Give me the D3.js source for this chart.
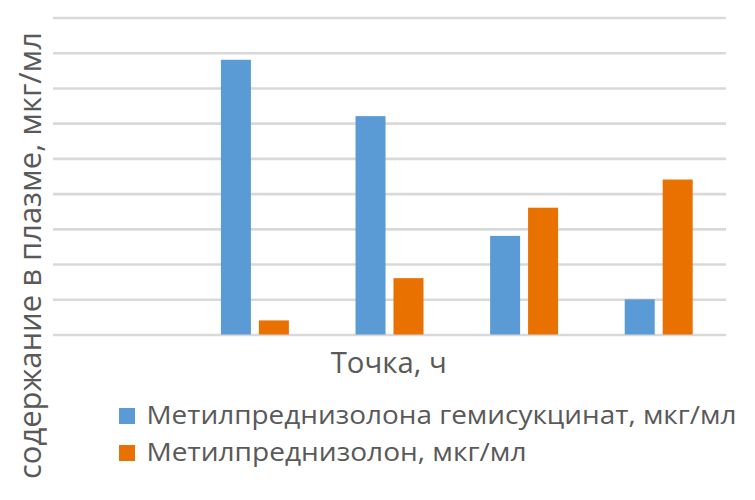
<!DOCTYPE html>
<html><head><meta charset="utf-8">
<script src="https://cdn.jsdelivr.net/npm/d3@7"></script>
<style>html,body{margin:0;padding:0;background:#fff;}</style>
</head><body>
<svg id="c" width="755" height="500"></svg>
<script>
const categories = ["1", "2", "3", "4", "5"];
const seriesNames = ["Метилпреднизолона гемисукцинат, мкг/мл", "Метилпреднизолон, мкг/мл"];
const hemisuccinate = [0, 7.8, 6.2, 2.8, 1.0];
const methylpred = [0, 0.4, 1.6, 3.6, 4.4];
const yTicks = [0, 1, 2, 3, 4, 5, 6, 7, 8, 9];
const colors = ["#5b9bd5", "#e97100"];
const xTitle = "Точка, ч";
const yTitle = "содержание в плазме, мкг/мл";

(function () {
const svg = d3.select("#c");
const plotLeft = 53, plotRight = 726, plotTop = 17.5, plotBottom = 334.5;
const font = "'Open Sans', 'Noto Sans', sans-serif";
const textColor = "#595959";

const y = d3.scaleLinear().domain([0, 9]).range([plotBottom, plotTop]);
const x0 = d3.scaleBand().domain(categories).range([plotLeft, plotRight]).paddingInner(0.495).paddingOuter(0.2475);
const x1 = d3.scaleBand().domain([0, 1]).range([0, x0.bandwidth()]).paddingInner(0.21).paddingOuter(0);

const gAxis = svg.append("g").attr("transform", `translate(${plotLeft},0)`)
  .call(d3.axisLeft(y).tickValues(yTicks).tickSize(-(plotRight - plotLeft)).tickFormat(""));
gAxis.select(".domain").remove();
gAxis.selectAll(".tick line").attr("stroke", "#d9d9d9").attr("stroke-width", 2.6);

const data = categories.map((c, i) => ({c, v: [hemisuccinate[i], methylpred[i]]}));
const groups = svg.append("g").selectAll("g").data(data).join("g")
  .attr("transform", d => `translate(${x0(d.c)},0)`);
groups.selectAll("rect").data(d => d.v.map((v, k) => ({v, k}))).join("rect")
  .attr("x", d => x1(d.k))
  .attr("width", x1.bandwidth())
  .attr("y", d => y(d.v))
  .attr("height", d => y(0) - y(d.v))
  .attr("fill", d => colors[d.k]);

function fitText(sel, w) {
  sel.attr("textLength", w).attr("lengthAdjust", "spacingAndGlyphs");
}

const xt = svg.append("text").attr("x", 330.7).attr("y", 373.3)
  .attr("font-family", font).attr("font-size", 29).attr("fill", textColor).text(xTitle);
fitText(xt, 116);

const yt = svg.append("text").attr("transform", "translate(41,479) rotate(-90)")
  .attr("font-family", font).attr("font-size", 31).attr("fill", textColor).text(yTitle);
fitText(yt, 447);

const legY = [408, 445];
seriesNames.forEach((name, k) => {
  svg.append("rect").attr("x", 119).attr("y", legY[k]).attr("width", 16).attr("height", 16).attr("fill", colors[k]);
  const t = svg.append("text").attr("x", 146.5).attr("y", legY[k] + 16)
    .attr("font-family", font).attr("font-size", 25).attr("fill", textColor).text(name);
  fitText(t, k === 0 ? 590 : 380);
});
})();
</script>
</body></html>
